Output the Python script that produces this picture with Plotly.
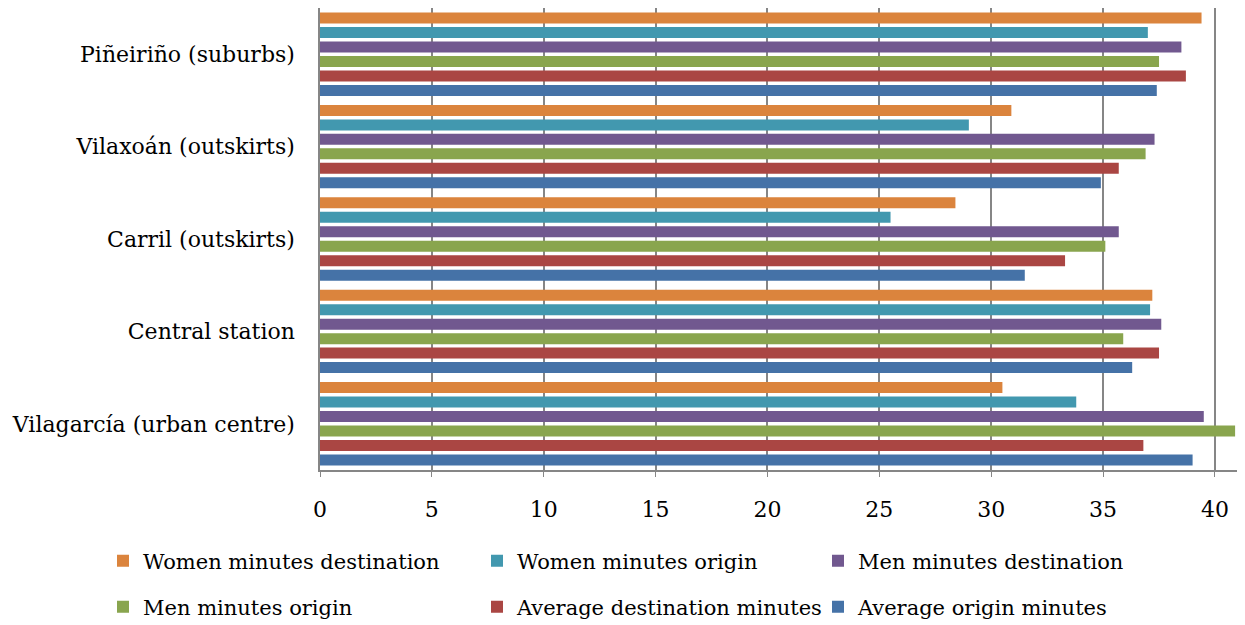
import plotly.graph_objects as go

categories = ["Vilagarcía (urban centre)", "Central station", "Carril (outskirts)",
              "Vilaxoán (outskirts)", "Piñeiriño (suburbs)"]

avg_origin = [39.0, 36.3, 31.5, 34.9, 37.4]
avg_destination = [36.8, 37.5, 33.3, 35.7, 38.7]
men_origin = [40.9, 35.9, 35.1, 36.9, 37.5]
men_destination = [39.5, 37.6, 35.7, 37.3, 38.5]
women_origin = [33.8, 37.1, 25.5, 29.0, 37.0]
women_destination = [30.5, 37.2, 28.4, 30.9, 39.4]

series = [
    ("Average origin minutes", avg_origin, "#4572A7"),
    ("Average destination minutes", avg_destination, "#AA4643"),
    ("Men minutes origin", men_origin, "#89A54E"),
    ("Men minutes destination", men_destination, "#71588F"),
    ("Women minutes origin", women_origin, "#4298AF"),
    ("Women minutes destination", women_destination, "#DB843D"),
]

# legend placement (container px): name -> (x_px, y_px)
legend_pos = {
    "Women minutes destination": (95, 553),
    "Women minutes origin": (469, 553),
    "Men minutes destination": (810, 553),
    "Men minutes origin": (95, 599),
    "Average destination minutes": (469, 599),
    "Average origin minutes": (810, 599),
}

FONT = "DejaVu Serif"
FS = 22
LFS = 21
W, H = 1245, 625

fig = go.Figure()
layout_legends = {}
for i, (name, vals, color) in enumerate(series):
    lname = "legend" if i == 0 else f"legend{i+1}"
    fig.add_trace(go.Bar(
        y=categories, x=vals, name=name, orientation="h",
        marker=dict(color=color, line=dict(width=0)),
        legend=lname,
    ))
    px, py = legend_pos[name]
    layout_legends[lname] = dict(
        x=px / W, y=1 - py / H, xref="container", yref="container",
        xanchor="left", yanchor="middle",
        font=dict(family=FONT, size=LFS, color="#000000"),
        bgcolor="rgba(0,0,0,0)", itemwidth=30,
    )

fig.update_layout(
    width=W, height=H,
    barmode="group", bargap=0.06, bargroupgap=0.24,
    plot_bgcolor="white", paper_bgcolor="white",
    margin=dict(l=312, r=0, t=0, b=163, autoexpand=False),
    font=dict(family=FONT, size=FS, color="#000000"),
    showlegend=True,
    xaxis=dict(
        range=[0, 41.7], tickmode="array", tickvals=list(range(0, 45, 5)),
        showgrid=True, gridcolor="#868686", gridwidth=1.5,
        showline=True, linecolor="#868686", linewidth=1.5,
        ticks="outside", ticklen=5, tickcolor="#868686",
        ticklabelstandoff=14, zeroline=False, automargin=False,
        tickfont=dict(family=FONT, size=FS, color="#000000"),
    ),
    yaxis=dict(
        showline=True, linecolor="#868686", linewidth=1.5,
        ticks="", ticklabelstandoff=19, automargin=False,
        tickfont=dict(family=FONT, size=FS, color="#000000"),
    ),
    **layout_legends,
)

fig.write_html("out.html")
